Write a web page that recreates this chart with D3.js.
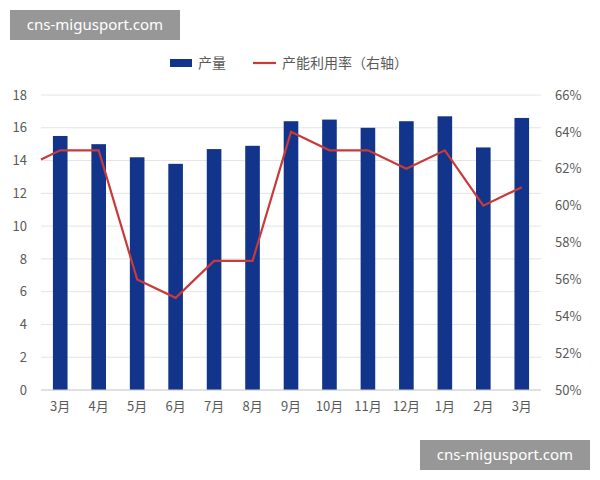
<!DOCTYPE html>
<html><head><meta charset="utf-8">
<script src="https://cdn.jsdelivr.net/npm/d3@7"></script>
<style>body{margin:0;background:#fff;font-family:"Noto Sans CJK SC","Noto Sans",sans-serif}</style>
</head><body><svg id="c" width="600" height="480"></svg>
<script>
const categories=["3月","4月","5月","6月","7月","8月","9月","10月","11月","12月","1月","2月","3月"];
const output=[15.5,15.0,14.2,13.8,14.7,14.9,16.4,16.5,16.0,16.4,16.7,14.8,16.6];
const utilization=[63,63,56,55,57,57,64,63,63,62,63,60,61];
const leadInUtil=62.5;
const leftTicks=[0,2,4,6,8,10,12,14,16,18];
const rightTicks=[50,52,54,56,58,60,62,64,66];

const svg=d3.select("#c");
const L=41,R=541,T=95,B=390;
const x=d3.scaleBand().domain(d3.range(categories.length)).range([L,R]).paddingInner(0.62).paddingOuter(0.31);
const y=d3.scaleLinear().domain([0,18]).range([B,T]);
const y2=d3.scaleLinear().domain([50,66]).range([B,T]);

svg.append("g").selectAll("line").data(leftTicks).join("line")
 .attr("x1",L).attr("x2",R).attr("y1",d=>y(d)).attr("y2",d=>y(d))
 .attr("stroke","#e4e4e4").attr("stroke-width",1);

svg.append("g").selectAll("rect").data(output).join("rect")
 .attr("x",(d,i)=>x(i)).attr("width",x.bandwidth())
 .attr("y",d=>y(d)).attr("height",d=>B-y(d)).attr("fill","#12348a");

const cx=i=>x(i)+x.bandwidth()/2;
const pts=[[L,y2(leadInUtil)]].concat(utilization.map((v,i)=>[cx(i),y2(v)]));
svg.append("path").attr("d",d3.line()(pts)).attr("fill","none").attr("stroke","#c93a3a").attr("stroke-width",2.2);

const tx={fill:"#595959","font-size":13};
const la=svg.append("g").attr("transform",`translate(${L},0)`).call(d3.axisLeft(y).tickValues(leftTicks).tickSize(0).tickPadding(14));
const ra=svg.append("g").attr("transform",`translate(${R},0)`).call(d3.axisRight(y2).tickValues(rightTicks).tickSize(0).tickPadding(14).tickFormat(d=>d+"%"));
const ba=svg.append("g").attr("transform",`translate(0,${B})`).call(d3.axisBottom(x).tickFormat(i=>categories[i]).tickSize(0).tickPadding(12));
[la,ra,ba].forEach(a=>{a.select(".domain").remove();a.selectAll("text").attr("fill","#595959").attr("font-size",13).attr("font-family","Noto Sans CJK SC");});
svg.append("line").attr("x1",L).attr("x2",R).attr("y1",B).attr("y2",B).attr("stroke","#d0d0d0");

const lg=svg.append("g").attr("font-size",14).attr("fill","#595959");
lg.append("rect").attr("x",170).attr("y",59).attr("width",22).attr("height",8).attr("fill","#12348a");
lg.append("text").attr("x",198).attr("y",68).text("产量").attr("fill","#595959");
lg.append("line").attr("x1",253).attr("x2",276).attr("y1",63).attr("y2",63).attr("stroke","#c93a3a").attr("stroke-width",2.2);
lg.append("text").attr("x",282).attr("y",68).text("产能利用率（右轴）").attr("fill","#595959");

function badge(bx,by,w,h){
 svg.append("rect").attr("x",bx).attr("y",by).attr("width",w).attr("height",h).attr("fill","#8c8c8c").attr("opacity",0.9);
 svg.append("text").attr("x",bx+w/2).attr("y",by+h/2+5).attr("text-anchor","middle").attr("fill","#fff").attr("font-size",15).attr("font-family","Noto Sans").text("cns-migusport.com");
}
badge(10,10,170,30);
badge(420,440,170,30);
</script></body></html>
